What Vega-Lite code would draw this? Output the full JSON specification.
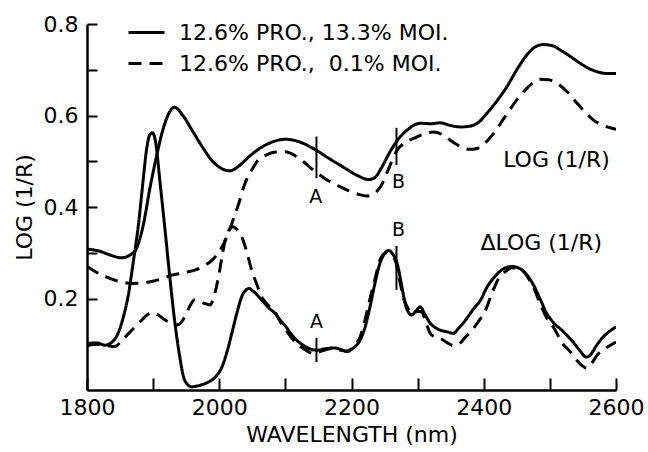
{
  "$schema": "https://vega.github.io/schema/vega-lite/v6.json",
  "width": 529,
  "height": 366,
  "autosize": {"type": "none"},
  "padding": {"left": 87, "top": 24, "right": 32, "bottom": 62},
  "background": "white",
  "config": {
    "view": {"stroke": null},
    "font": "DejaVu Sans",
    "axis": {
      "grid": false,
      "domainColor": "black",
      "domainWidth": 2.5,
      "tickColor": "black",
      "tickWidth": 2,
      "labelColor": "black",
      "titleColor": "black",
      "labelFont": "DejaVu Sans",
      "titleFont": "DejaVu Sans",
      "labelFontSize": 22,
      "titleFontSize": 22,
      "titleFontWeight": "normal"
    }
  },
  "datasets": {
    "curves": [
      {"w":1800,"v":0.308,"s":"LOG","m":"12.6% PRO., 13.3% MOI."},
      {"w":1820,"v":0.303,"s":"LOG","m":"12.6% PRO., 13.3% MOI."},
      {"w":1835,"v":0.295,"s":"LOG","m":"12.6% PRO., 13.3% MOI."},
      {"w":1852,"v":0.289,"s":"LOG","m":"12.6% PRO., 13.3% MOI."},
      {"w":1865,"v":0.295,"s":"LOG","m":"12.6% PRO., 13.3% MOI."},
      {"w":1875,"v":0.31,"s":"LOG","m":"12.6% PRO., 13.3% MOI."},
      {"w":1885,"v":0.36,"s":"LOG","m":"12.6% PRO., 13.3% MOI."},
      {"w":1895,"v":0.44,"s":"LOG","m":"12.6% PRO., 13.3% MOI."},
      {"w":1905,"v":0.51,"s":"LOG","m":"12.6% PRO., 13.3% MOI."},
      {"w":1915,"v":0.57,"s":"LOG","m":"12.6% PRO., 13.3% MOI."},
      {"w":1925,"v":0.608,"s":"LOG","m":"12.6% PRO., 13.3% MOI."},
      {"w":1932,"v":0.618,"s":"LOG","m":"12.6% PRO., 13.3% MOI."},
      {"w":1945,"v":0.6,"s":"LOG","m":"12.6% PRO., 13.3% MOI."},
      {"w":1960,"v":0.565,"s":"LOG","m":"12.6% PRO., 13.3% MOI."},
      {"w":1975,"v":0.53,"s":"LOG","m":"12.6% PRO., 13.3% MOI."},
      {"w":1990,"v":0.5,"s":"LOG","m":"12.6% PRO., 13.3% MOI."},
      {"w":2005,"v":0.483,"s":"LOG","m":"12.6% PRO., 13.3% MOI."},
      {"w":2016,"v":0.479,"s":"LOG","m":"12.6% PRO., 13.3% MOI."},
      {"w":2030,"v":0.49,"s":"LOG","m":"12.6% PRO., 13.3% MOI."},
      {"w":2045,"v":0.51,"s":"LOG","m":"12.6% PRO., 13.3% MOI."},
      {"w":2060,"v":0.527,"s":"LOG","m":"12.6% PRO., 13.3% MOI."},
      {"w":2080,"v":0.542,"s":"LOG","m":"12.6% PRO., 13.3% MOI."},
      {"w":2100,"v":0.548,"s":"LOG","m":"12.6% PRO., 13.3% MOI."},
      {"w":2120,"v":0.543,"s":"LOG","m":"12.6% PRO., 13.3% MOI."},
      {"w":2142,"v":0.528,"s":"LOG","m":"12.6% PRO., 13.3% MOI."},
      {"w":2165,"v":0.507,"s":"LOG","m":"12.6% PRO., 13.3% MOI."},
      {"w":2190,"v":0.485,"s":"LOG","m":"12.6% PRO., 13.3% MOI."},
      {"w":2210,"v":0.468,"s":"LOG","m":"12.6% PRO., 13.3% MOI."},
      {"w":2226,"v":0.46,"s":"LOG","m":"12.6% PRO., 13.3% MOI."},
      {"w":2236,"v":0.465,"s":"LOG","m":"12.6% PRO., 13.3% MOI."},
      {"w":2245,"v":0.485,"s":"LOG","m":"12.6% PRO., 13.3% MOI."},
      {"w":2258,"v":0.52,"s":"LOG","m":"12.6% PRO., 13.3% MOI."},
      {"w":2268,"v":0.543,"s":"LOG","m":"12.6% PRO., 13.3% MOI."},
      {"w":2284,"v":0.568,"s":"LOG","m":"12.6% PRO., 13.3% MOI."},
      {"w":2304,"v":0.583,"s":"LOG","m":"12.6% PRO., 13.3% MOI."},
      {"w":2320,"v":0.582,"s":"LOG","m":"12.6% PRO., 13.3% MOI."},
      {"w":2334,"v":0.584,"s":"LOG","m":"12.6% PRO., 13.3% MOI."},
      {"w":2350,"v":0.578,"s":"LOG","m":"12.6% PRO., 13.3% MOI."},
      {"w":2365,"v":0.575,"s":"LOG","m":"12.6% PRO., 13.3% MOI."},
      {"w":2380,"v":0.577,"s":"LOG","m":"12.6% PRO., 13.3% MOI."},
      {"w":2392,"v":0.585,"s":"LOG","m":"12.6% PRO., 13.3% MOI."},
      {"w":2405,"v":0.605,"s":"LOG","m":"12.6% PRO., 13.3% MOI."},
      {"w":2420,"v":0.632,"s":"LOG","m":"12.6% PRO., 13.3% MOI."},
      {"w":2435,"v":0.663,"s":"LOG","m":"12.6% PRO., 13.3% MOI."},
      {"w":2450,"v":0.7,"s":"LOG","m":"12.6% PRO., 13.3% MOI."},
      {"w":2465,"v":0.732,"s":"LOG","m":"12.6% PRO., 13.3% MOI."},
      {"w":2478,"v":0.75,"s":"LOG","m":"12.6% PRO., 13.3% MOI."},
      {"w":2490,"v":0.755,"s":"LOG","m":"12.6% PRO., 13.3% MOI."},
      {"w":2505,"v":0.752,"s":"LOG","m":"12.6% PRO., 13.3% MOI."},
      {"w":2516,"v":0.743,"s":"LOG","m":"12.6% PRO., 13.3% MOI."},
      {"w":2530,"v":0.73,"s":"LOG","m":"12.6% PRO., 13.3% MOI."},
      {"w":2546,"v":0.714,"s":"LOG","m":"12.6% PRO., 13.3% MOI."},
      {"w":2560,"v":0.702,"s":"LOG","m":"12.6% PRO., 13.3% MOI."},
      {"w":2571,"v":0.696,"s":"LOG","m":"12.6% PRO., 13.3% MOI."},
      {"w":2585,"v":0.692,"s":"LOG","m":"12.6% PRO., 13.3% MOI."},
      {"w":2600,"v":0.692,"s":"LOG","m":"12.6% PRO., 13.3% MOI."},

      {"w":1800,"v":0.27,"s":"LOG","m":"12.6% PRO.,\u00a0 0.1% MOI."},
      {"w":1827,"v":0.248,"s":"LOG","m":"12.6% PRO.,\u00a0 0.1% MOI."},
      {"w":1850,"v":0.237,"s":"LOG","m":"12.6% PRO.,\u00a0 0.1% MOI."},
      {"w":1868,"v":0.233,"s":"LOG","m":"12.6% PRO.,\u00a0 0.1% MOI."},
      {"w":1885,"v":0.234,"s":"LOG","m":"12.6% PRO.,\u00a0 0.1% MOI."},
      {"w":1898,"v":0.237,"s":"LOG","m":"12.6% PRO.,\u00a0 0.1% MOI."},
      {"w":1915,"v":0.244,"s":"LOG","m":"12.6% PRO.,\u00a0 0.1% MOI."},
      {"w":1928,"v":0.251,"s":"LOG","m":"12.6% PRO.,\u00a0 0.1% MOI."},
      {"w":1945,"v":0.256,"s":"LOG","m":"12.6% PRO.,\u00a0 0.1% MOI."},
      {"w":1963,"v":0.262,"s":"LOG","m":"12.6% PRO.,\u00a0 0.1% MOI."},
      {"w":1978,"v":0.272,"s":"LOG","m":"12.6% PRO.,\u00a0 0.1% MOI."},
      {"w":1990,"v":0.285,"s":"LOG","m":"12.6% PRO.,\u00a0 0.1% MOI."},
      {"w":2000,"v":0.303,"s":"LOG","m":"12.6% PRO.,\u00a0 0.1% MOI."},
      {"w":2010,"v":0.33,"s":"LOG","m":"12.6% PRO.,\u00a0 0.1% MOI."},
      {"w":2019,"v":0.364,"s":"LOG","m":"12.6% PRO.,\u00a0 0.1% MOI."},
      {"w":2030,"v":0.41,"s":"LOG","m":"12.6% PRO.,\u00a0 0.1% MOI."},
      {"w":2039,"v":0.452,"s":"LOG","m":"12.6% PRO.,\u00a0 0.1% MOI."},
      {"w":2050,"v":0.483,"s":"LOG","m":"12.6% PRO.,\u00a0 0.1% MOI."},
      {"w":2059,"v":0.503,"s":"LOG","m":"12.6% PRO.,\u00a0 0.1% MOI."},
      {"w":2070,"v":0.513,"s":"LOG","m":"12.6% PRO.,\u00a0 0.1% MOI."},
      {"w":2085,"v":0.52,"s":"LOG","m":"12.6% PRO.,\u00a0 0.1% MOI."},
      {"w":2100,"v":0.521,"s":"LOG","m":"12.6% PRO.,\u00a0 0.1% MOI."},
      {"w":2115,"v":0.512,"s":"LOG","m":"12.6% PRO.,\u00a0 0.1% MOI."},
      {"w":2130,"v":0.496,"s":"LOG","m":"12.6% PRO.,\u00a0 0.1% MOI."},
      {"w":2142,"v":0.481,"s":"LOG","m":"12.6% PRO.,\u00a0 0.1% MOI."},
      {"w":2160,"v":0.462,"s":"LOG","m":"12.6% PRO.,\u00a0 0.1% MOI."},
      {"w":2180,"v":0.446,"s":"LOG","m":"12.6% PRO.,\u00a0 0.1% MOI."},
      {"w":2195,"v":0.436,"s":"LOG","m":"12.6% PRO.,\u00a0 0.1% MOI."},
      {"w":2210,"v":0.428,"s":"LOG","m":"12.6% PRO.,\u00a0 0.1% MOI."},
      {"w":2223,"v":0.424,"s":"LOG","m":"12.6% PRO.,\u00a0 0.1% MOI."},
      {"w":2235,"v":0.43,"s":"LOG","m":"12.6% PRO.,\u00a0 0.1% MOI."},
      {"w":2245,"v":0.447,"s":"LOG","m":"12.6% PRO.,\u00a0 0.1% MOI."},
      {"w":2258,"v":0.49,"s":"LOG","m":"12.6% PRO.,\u00a0 0.1% MOI."},
      {"w":2268,"v":0.522,"s":"LOG","m":"12.6% PRO.,\u00a0 0.1% MOI."},
      {"w":2280,"v":0.54,"s":"LOG","m":"12.6% PRO.,\u00a0 0.1% MOI."},
      {"w":2294,"v":0.55,"s":"LOG","m":"12.6% PRO.,\u00a0 0.1% MOI."},
      {"w":2310,"v":0.56,"s":"LOG","m":"12.6% PRO.,\u00a0 0.1% MOI."},
      {"w":2324,"v":0.564,"s":"LOG","m":"12.6% PRO.,\u00a0 0.1% MOI."},
      {"w":2340,"v":0.556,"s":"LOG","m":"12.6% PRO.,\u00a0 0.1% MOI."},
      {"w":2352,"v":0.543,"s":"LOG","m":"12.6% PRO.,\u00a0 0.1% MOI."},
      {"w":2365,"v":0.532,"s":"LOG","m":"12.6% PRO.,\u00a0 0.1% MOI."},
      {"w":2378,"v":0.526,"s":"LOG","m":"12.6% PRO.,\u00a0 0.1% MOI."},
      {"w":2390,"v":0.528,"s":"LOG","m":"12.6% PRO.,\u00a0 0.1% MOI."},
      {"w":2402,"v":0.54,"s":"LOG","m":"12.6% PRO.,\u00a0 0.1% MOI."},
      {"w":2415,"v":0.561,"s":"LOG","m":"12.6% PRO.,\u00a0 0.1% MOI."},
      {"w":2432,"v":0.597,"s":"LOG","m":"12.6% PRO.,\u00a0 0.1% MOI."},
      {"w":2450,"v":0.634,"s":"LOG","m":"12.6% PRO.,\u00a0 0.1% MOI."},
      {"w":2467,"v":0.662,"s":"LOG","m":"12.6% PRO.,\u00a0 0.1% MOI."},
      {"w":2485,"v":0.679,"s":"LOG","m":"12.6% PRO.,\u00a0 0.1% MOI."},
      {"w":2498,"v":0.678,"s":"LOG","m":"12.6% PRO.,\u00a0 0.1% MOI."},
      {"w":2511,"v":0.67,"s":"LOG","m":"12.6% PRO.,\u00a0 0.1% MOI."},
      {"w":2526,"v":0.652,"s":"LOG","m":"12.6% PRO.,\u00a0 0.1% MOI."},
      {"w":2541,"v":0.627,"s":"LOG","m":"12.6% PRO.,\u00a0 0.1% MOI."},
      {"w":2555,"v":0.605,"s":"LOG","m":"12.6% PRO.,\u00a0 0.1% MOI."},
      {"w":2566,"v":0.59,"s":"LOG","m":"12.6% PRO.,\u00a0 0.1% MOI."},
      {"w":2580,"v":0.579,"s":"LOG","m":"12.6% PRO.,\u00a0 0.1% MOI."},
      {"w":2594,"v":0.572,"s":"LOG","m":"12.6% PRO.,\u00a0 0.1% MOI."},
      {"w":2600,"v":0.57,"s":"LOG","m":"12.6% PRO.,\u00a0 0.1% MOI."},

      {"w":1800,"v":0.102,"s":"DLOG","m":"12.6% PRO., 13.3% MOI."},
      {"w":1815,"v":0.103,"s":"DLOG","m":"12.6% PRO., 13.3% MOI."},
      {"w":1827,"v":0.098,"s":"DLOG","m":"12.6% PRO., 13.3% MOI."},
      {"w":1838,"v":0.105,"s":"DLOG","m":"12.6% PRO., 13.3% MOI."},
      {"w":1847,"v":0.124,"s":"DLOG","m":"12.6% PRO., 13.3% MOI."},
      {"w":1855,"v":0.16,"s":"DLOG","m":"12.6% PRO., 13.3% MOI."},
      {"w":1862,"v":0.204,"s":"DLOG","m":"12.6% PRO., 13.3% MOI."},
      {"w":1870,"v":0.28,"s":"DLOG","m":"12.6% PRO., 13.3% MOI."},
      {"w":1878,"v":0.364,"s":"DLOG","m":"12.6% PRO., 13.3% MOI."},
      {"w":1885,"v":0.46,"s":"DLOG","m":"12.6% PRO., 13.3% MOI."},
      {"w":1890,"v":0.525,"s":"DLOG","m":"12.6% PRO., 13.3% MOI."},
      {"w":1895,"v":0.558,"s":"DLOG","m":"12.6% PRO., 13.3% MOI."},
      {"w":1899,"v":0.562,"s":"DLOG","m":"12.6% PRO., 13.3% MOI."},
      {"w":1904,"v":0.54,"s":"DLOG","m":"12.6% PRO., 13.3% MOI."},
      {"w":1910,"v":0.46,"s":"DLOG","m":"12.6% PRO., 13.3% MOI."},
      {"w":1918,"v":0.35,"s":"DLOG","m":"12.6% PRO., 13.3% MOI."},
      {"w":1925,"v":0.25,"s":"DLOG","m":"12.6% PRO., 13.3% MOI."},
      {"w":1933,"v":0.146,"s":"DLOG","m":"12.6% PRO., 13.3% MOI."},
      {"w":1940,"v":0.075,"s":"DLOG","m":"12.6% PRO., 13.3% MOI."},
      {"w":1946,"v":0.029,"s":"DLOG","m":"12.6% PRO., 13.3% MOI."},
      {"w":1952,"v":0.012,"s":"DLOG","m":"12.6% PRO., 13.3% MOI."},
      {"w":1958,"v":0.007,"s":"DLOG","m":"12.6% PRO., 13.3% MOI."},
      {"w":1970,"v":0.01,"s":"DLOG","m":"12.6% PRO., 13.3% MOI."},
      {"w":1980,"v":0.015,"s":"DLOG","m":"12.6% PRO., 13.3% MOI."},
      {"w":1989,"v":0.022,"s":"DLOG","m":"12.6% PRO., 13.3% MOI."},
      {"w":1997,"v":0.033,"s":"DLOG","m":"12.6% PRO., 13.3% MOI."},
      {"w":2004,"v":0.05,"s":"DLOG","m":"12.6% PRO., 13.3% MOI."},
      {"w":2012,"v":0.085,"s":"DLOG","m":"12.6% PRO., 13.3% MOI."},
      {"w":2019,"v":0.124,"s":"DLOG","m":"12.6% PRO., 13.3% MOI."},
      {"w":2027,"v":0.17,"s":"DLOG","m":"12.6% PRO., 13.3% MOI."},
      {"w":2034,"v":0.204,"s":"DLOG","m":"12.6% PRO., 13.3% MOI."},
      {"w":2040,"v":0.218,"s":"DLOG","m":"12.6% PRO., 13.3% MOI."},
      {"w":2045,"v":0.222,"s":"DLOG","m":"12.6% PRO., 13.3% MOI."},
      {"w":2052,"v":0.215,"s":"DLOG","m":"12.6% PRO., 13.3% MOI."},
      {"w":2064,"v":0.197,"s":"DLOG","m":"12.6% PRO., 13.3% MOI."},
      {"w":2076,"v":0.178,"s":"DLOG","m":"12.6% PRO., 13.3% MOI."},
      {"w":2084,"v":0.168,"s":"DLOG","m":"12.6% PRO., 13.3% MOI."},
      {"w":2092,"v":0.153,"s":"DLOG","m":"12.6% PRO., 13.3% MOI."},
      {"w":2100,"v":0.14,"s":"DLOG","m":"12.6% PRO., 13.3% MOI."},
      {"w":2110,"v":0.12,"s":"DLOG","m":"12.6% PRO., 13.3% MOI."},
      {"w":2117,"v":0.109,"s":"DLOG","m":"12.6% PRO., 13.3% MOI."},
      {"w":2130,"v":0.095,"s":"DLOG","m":"12.6% PRO., 13.3% MOI."},
      {"w":2147,"v":0.087,"s":"DLOG","m":"12.6% PRO., 13.3% MOI."},
      {"w":2160,"v":0.09,"s":"DLOG","m":"12.6% PRO., 13.3% MOI."},
      {"w":2173,"v":0.092,"s":"DLOG","m":"12.6% PRO., 13.3% MOI."},
      {"w":2185,"v":0.088,"s":"DLOG","m":"12.6% PRO., 13.3% MOI."},
      {"w":2193,"v":0.084,"s":"DLOG","m":"12.6% PRO., 13.3% MOI."},
      {"w":2203,"v":0.092,"s":"DLOG","m":"12.6% PRO., 13.3% MOI."},
      {"w":2213,"v":0.109,"s":"DLOG","m":"12.6% PRO., 13.3% MOI."},
      {"w":2220,"v":0.135,"s":"DLOG","m":"12.6% PRO., 13.3% MOI."},
      {"w":2228,"v":0.182,"s":"DLOG","m":"12.6% PRO., 13.3% MOI."},
      {"w":2235,"v":0.23,"s":"DLOG","m":"12.6% PRO., 13.3% MOI."},
      {"w":2243,"v":0.277,"s":"DLOG","m":"12.6% PRO., 13.3% MOI."},
      {"w":2250,"v":0.298,"s":"DLOG","m":"12.6% PRO., 13.3% MOI."},
      {"w":2256,"v":0.305,"s":"DLOG","m":"12.6% PRO., 13.3% MOI."},
      {"w":2262,"v":0.298,"s":"DLOG","m":"12.6% PRO., 13.3% MOI."},
      {"w":2269,"v":0.277,"s":"DLOG","m":"12.6% PRO., 13.3% MOI."},
      {"w":2275,"v":0.235,"s":"DLOG","m":"12.6% PRO., 13.3% MOI."},
      {"w":2281,"v":0.19,"s":"DLOG","m":"12.6% PRO., 13.3% MOI."},
      {"w":2287,"v":0.168,"s":"DLOG","m":"12.6% PRO., 13.3% MOI."},
      {"w":2291,"v":0.164,"s":"DLOG","m":"12.6% PRO., 13.3% MOI."},
      {"w":2297,"v":0.172,"s":"DLOG","m":"12.6% PRO., 13.3% MOI."},
      {"w":2304,"v":0.182,"s":"DLOG","m":"12.6% PRO., 13.3% MOI."},
      {"w":2311,"v":0.165,"s":"DLOG","m":"12.6% PRO., 13.3% MOI."},
      {"w":2319,"v":0.146,"s":"DLOG","m":"12.6% PRO., 13.3% MOI."},
      {"w":2326,"v":0.137,"s":"DLOG","m":"12.6% PRO., 13.3% MOI."},
      {"w":2334,"v":0.131,"s":"DLOG","m":"12.6% PRO., 13.3% MOI."},
      {"w":2345,"v":0.127,"s":"DLOG","m":"12.6% PRO., 13.3% MOI."},
      {"w":2354,"v":0.124,"s":"DLOG","m":"12.6% PRO., 13.3% MOI."},
      {"w":2362,"v":0.135,"s":"DLOG","m":"12.6% PRO., 13.3% MOI."},
      {"w":2372,"v":0.152,"s":"DLOG","m":"12.6% PRO., 13.3% MOI."},
      {"w":2385,"v":0.178,"s":"DLOG","m":"12.6% PRO., 13.3% MOI."},
      {"w":2395,"v":0.196,"s":"DLOG","m":"12.6% PRO., 13.3% MOI."},
      {"w":2405,"v":0.225,"s":"DLOG","m":"12.6% PRO., 13.3% MOI."},
      {"w":2418,"v":0.25,"s":"DLOG","m":"12.6% PRO., 13.3% MOI."},
      {"w":2430,"v":0.265,"s":"DLOG","m":"12.6% PRO., 13.3% MOI."},
      {"w":2442,"v":0.27,"s":"DLOG","m":"12.6% PRO., 13.3% MOI."},
      {"w":2455,"v":0.265,"s":"DLOG","m":"12.6% PRO., 13.3% MOI."},
      {"w":2465,"v":0.252,"s":"DLOG","m":"12.6% PRO., 13.3% MOI."},
      {"w":2475,"v":0.23,"s":"DLOG","m":"12.6% PRO., 13.3% MOI."},
      {"w":2485,"v":0.2,"s":"DLOG","m":"12.6% PRO., 13.3% MOI."},
      {"w":2495,"v":0.168,"s":"DLOG","m":"12.6% PRO., 13.3% MOI."},
      {"w":2505,"v":0.148,"s":"DLOG","m":"12.6% PRO., 13.3% MOI."},
      {"w":2520,"v":0.128,"s":"DLOG","m":"12.6% PRO., 13.3% MOI."},
      {"w":2535,"v":0.105,"s":"DLOG","m":"12.6% PRO., 13.3% MOI."},
      {"w":2545,"v":0.087,"s":"DLOG","m":"12.6% PRO., 13.3% MOI."},
      {"w":2555,"v":0.072,"s":"DLOG","m":"12.6% PRO., 13.3% MOI."},
      {"w":2562,"v":0.078,"s":"DLOG","m":"12.6% PRO., 13.3% MOI."},
      {"w":2570,"v":0.096,"s":"DLOG","m":"12.6% PRO., 13.3% MOI."},
      {"w":2580,"v":0.115,"s":"DLOG","m":"12.6% PRO., 13.3% MOI."},
      {"w":2590,"v":0.128,"s":"DLOG","m":"12.6% PRO., 13.3% MOI."},
      {"w":2600,"v":0.138,"s":"DLOG","m":"12.6% PRO., 13.3% MOI."},

      {"w":1800,"v":0.097,"s":"DLOG","m":"12.6% PRO.,\u00a0 0.1% MOI."},
      {"w":1815,"v":0.1,"s":"DLOG","m":"12.6% PRO.,\u00a0 0.1% MOI."},
      {"w":1830,"v":0.097,"s":"DLOG","m":"12.6% PRO.,\u00a0 0.1% MOI."},
      {"w":1842,"v":0.095,"s":"DLOG","m":"12.6% PRO.,\u00a0 0.1% MOI."},
      {"w":1855,"v":0.112,"s":"DLOG","m":"12.6% PRO.,\u00a0 0.1% MOI."},
      {"w":1868,"v":0.131,"s":"DLOG","m":"12.6% PRO.,\u00a0 0.1% MOI."},
      {"w":1883,"v":0.153,"s":"DLOG","m":"12.6% PRO.,\u00a0 0.1% MOI."},
      {"w":1893,"v":0.166,"s":"DLOG","m":"12.6% PRO.,\u00a0 0.1% MOI."},
      {"w":1900,"v":0.169,"s":"DLOG","m":"12.6% PRO.,\u00a0 0.1% MOI."},
      {"w":1908,"v":0.164,"s":"DLOG","m":"12.6% PRO.,\u00a0 0.1% MOI."},
      {"w":1918,"v":0.153,"s":"DLOG","m":"12.6% PRO.,\u00a0 0.1% MOI."},
      {"w":1927,"v":0.147,"s":"DLOG","m":"12.6% PRO.,\u00a0 0.1% MOI."},
      {"w":1936,"v":0.142,"s":"DLOG","m":"12.6% PRO.,\u00a0 0.1% MOI."},
      {"w":1942,"v":0.147,"s":"DLOG","m":"12.6% PRO.,\u00a0 0.1% MOI."},
      {"w":1948,"v":0.16,"s":"DLOG","m":"12.6% PRO.,\u00a0 0.1% MOI."},
      {"w":1955,"v":0.182,"s":"DLOG","m":"12.6% PRO.,\u00a0 0.1% MOI."},
      {"w":1963,"v":0.197,"s":"DLOG","m":"12.6% PRO.,\u00a0 0.1% MOI."},
      {"w":1970,"v":0.193,"s":"DLOG","m":"12.6% PRO.,\u00a0 0.1% MOI."},
      {"w":1976,"v":0.19,"s":"DLOG","m":"12.6% PRO.,\u00a0 0.1% MOI."},
      {"w":1986,"v":0.186,"s":"DLOG","m":"12.6% PRO.,\u00a0 0.1% MOI."},
      {"w":1993,"v":0.21,"s":"DLOG","m":"12.6% PRO.,\u00a0 0.1% MOI."},
      {"w":1999,"v":0.248,"s":"DLOG","m":"12.6% PRO.,\u00a0 0.1% MOI."},
      {"w":2004,"v":0.29,"s":"DLOG","m":"12.6% PRO.,\u00a0 0.1% MOI."},
      {"w":2009,"v":0.328,"s":"DLOG","m":"12.6% PRO.,\u00a0 0.1% MOI."},
      {"w":2015,"v":0.35,"s":"DLOG","m":"12.6% PRO.,\u00a0 0.1% MOI."},
      {"w":2021,"v":0.357,"s":"DLOG","m":"12.6% PRO.,\u00a0 0.1% MOI."},
      {"w":2027,"v":0.35,"s":"DLOG","m":"12.6% PRO.,\u00a0 0.1% MOI."},
      {"w":2034,"v":0.335,"s":"DLOG","m":"12.6% PRO.,\u00a0 0.1% MOI."},
      {"w":2042,"v":0.3,"s":"DLOG","m":"12.6% PRO.,\u00a0 0.1% MOI."},
      {"w":2049,"v":0.262,"s":"DLOG","m":"12.6% PRO.,\u00a0 0.1% MOI."},
      {"w":2057,"v":0.23,"s":"DLOG","m":"12.6% PRO.,\u00a0 0.1% MOI."},
      {"w":2064,"v":0.204,"s":"DLOG","m":"12.6% PRO.,\u00a0 0.1% MOI."},
      {"w":2074,"v":0.185,"s":"DLOG","m":"12.6% PRO.,\u00a0 0.1% MOI."},
      {"w":2084,"v":0.171,"s":"DLOG","m":"12.6% PRO.,\u00a0 0.1% MOI."},
      {"w":2092,"v":0.15,"s":"DLOG","m":"12.6% PRO.,\u00a0 0.1% MOI."},
      {"w":2100,"v":0.133,"s":"DLOG","m":"12.6% PRO.,\u00a0 0.1% MOI."},
      {"w":2110,"v":0.113,"s":"DLOG","m":"12.6% PRO.,\u00a0 0.1% MOI."},
      {"w":2117,"v":0.102,"s":"DLOG","m":"12.6% PRO.,\u00a0 0.1% MOI."},
      {"w":2130,"v":0.088,"s":"DLOG","m":"12.6% PRO.,\u00a0 0.1% MOI."},
      {"w":2142,"v":0.08,"s":"DLOG","m":"12.6% PRO.,\u00a0 0.1% MOI."},
      {"w":2155,"v":0.085,"s":"DLOG","m":"12.6% PRO.,\u00a0 0.1% MOI."},
      {"w":2168,"v":0.09,"s":"DLOG","m":"12.6% PRO.,\u00a0 0.1% MOI."},
      {"w":2180,"v":0.088,"s":"DLOG","m":"12.6% PRO.,\u00a0 0.1% MOI."},
      {"w":2193,"v":0.085,"s":"DLOG","m":"12.6% PRO.,\u00a0 0.1% MOI."},
      {"w":2203,"v":0.095,"s":"DLOG","m":"12.6% PRO.,\u00a0 0.1% MOI."},
      {"w":2213,"v":0.116,"s":"DLOG","m":"12.6% PRO.,\u00a0 0.1% MOI."},
      {"w":2220,"v":0.15,"s":"DLOG","m":"12.6% PRO.,\u00a0 0.1% MOI."},
      {"w":2228,"v":0.2,"s":"DLOG","m":"12.6% PRO.,\u00a0 0.1% MOI."},
      {"w":2236,"v":0.245,"s":"DLOG","m":"12.6% PRO.,\u00a0 0.1% MOI."},
      {"w":2243,"v":0.284,"s":"DLOG","m":"12.6% PRO.,\u00a0 0.1% MOI."},
      {"w":2248,"v":0.296,"s":"DLOG","m":"12.6% PRO.,\u00a0 0.1% MOI."},
      {"w":2253,"v":0.3,"s":"DLOG","m":"12.6% PRO.,\u00a0 0.1% MOI."},
      {"w":2259,"v":0.296,"s":"DLOG","m":"12.6% PRO.,\u00a0 0.1% MOI."},
      {"w":2266,"v":0.284,"s":"DLOG","m":"12.6% PRO.,\u00a0 0.1% MOI."},
      {"w":2272,"v":0.245,"s":"DLOG","m":"12.6% PRO.,\u00a0 0.1% MOI."},
      {"w":2279,"v":0.2,"s":"DLOG","m":"12.6% PRO.,\u00a0 0.1% MOI."},
      {"w":2286,"v":0.177,"s":"DLOG","m":"12.6% PRO.,\u00a0 0.1% MOI."},
      {"w":2294,"v":0.168,"s":"DLOG","m":"12.6% PRO.,\u00a0 0.1% MOI."},
      {"w":2300,"v":0.172,"s":"DLOG","m":"12.6% PRO.,\u00a0 0.1% MOI."},
      {"w":2306,"v":0.171,"s":"DLOG","m":"12.6% PRO.,\u00a0 0.1% MOI."},
      {"w":2312,"v":0.15,"s":"DLOG","m":"12.6% PRO.,\u00a0 0.1% MOI."},
      {"w":2319,"v":0.124,"s":"DLOG","m":"12.6% PRO.,\u00a0 0.1% MOI."},
      {"w":2326,"v":0.116,"s":"DLOG","m":"12.6% PRO.,\u00a0 0.1% MOI."},
      {"w":2334,"v":0.113,"s":"DLOG","m":"12.6% PRO.,\u00a0 0.1% MOI."},
      {"w":2344,"v":0.104,"s":"DLOG","m":"12.6% PRO.,\u00a0 0.1% MOI."},
      {"w":2354,"v":0.097,"s":"DLOG","m":"12.6% PRO.,\u00a0 0.1% MOI."},
      {"w":2362,"v":0.1,"s":"DLOG","m":"12.6% PRO.,\u00a0 0.1% MOI."},
      {"w":2372,"v":0.115,"s":"DLOG","m":"12.6% PRO.,\u00a0 0.1% MOI."},
      {"w":2382,"v":0.13,"s":"DLOG","m":"12.6% PRO.,\u00a0 0.1% MOI."},
      {"w":2392,"v":0.15,"s":"DLOG","m":"12.6% PRO.,\u00a0 0.1% MOI."},
      {"w":2402,"v":0.172,"s":"DLOG","m":"12.6% PRO.,\u00a0 0.1% MOI."},
      {"w":2412,"v":0.21,"s":"DLOG","m":"12.6% PRO.,\u00a0 0.1% MOI."},
      {"w":2422,"v":0.242,"s":"DLOG","m":"12.6% PRO.,\u00a0 0.1% MOI."},
      {"w":2432,"v":0.258,"s":"DLOG","m":"12.6% PRO.,\u00a0 0.1% MOI."},
      {"w":2442,"v":0.267,"s":"DLOG","m":"12.6% PRO.,\u00a0 0.1% MOI."},
      {"w":2455,"v":0.265,"s":"DLOG","m":"12.6% PRO.,\u00a0 0.1% MOI."},
      {"w":2465,"v":0.25,"s":"DLOG","m":"12.6% PRO.,\u00a0 0.1% MOI."},
      {"w":2475,"v":0.225,"s":"DLOG","m":"12.6% PRO.,\u00a0 0.1% MOI."},
      {"w":2485,"v":0.19,"s":"DLOG","m":"12.6% PRO.,\u00a0 0.1% MOI."},
      {"w":2495,"v":0.158,"s":"DLOG","m":"12.6% PRO.,\u00a0 0.1% MOI."},
      {"w":2505,"v":0.138,"s":"DLOG","m":"12.6% PRO.,\u00a0 0.1% MOI."},
      {"w":2520,"v":0.1,"s":"DLOG","m":"12.6% PRO.,\u00a0 0.1% MOI."},
      {"w":2530,"v":0.085,"s":"DLOG","m":"12.6% PRO.,\u00a0 0.1% MOI."},
      {"w":2540,"v":0.066,"s":"DLOG","m":"12.6% PRO.,\u00a0 0.1% MOI."},
      {"w":2550,"v":0.052,"s":"DLOG","m":"12.6% PRO.,\u00a0 0.1% MOI."},
      {"w":2556,"v":0.048,"s":"DLOG","m":"12.6% PRO.,\u00a0 0.1% MOI."},
      {"w":2563,"v":0.058,"s":"DLOG","m":"12.6% PRO.,\u00a0 0.1% MOI."},
      {"w":2572,"v":0.077,"s":"DLOG","m":"12.6% PRO.,\u00a0 0.1% MOI."},
      {"w":2585,"v":0.092,"s":"DLOG","m":"12.6% PRO.,\u00a0 0.1% MOI."},
      {"w":2600,"v":0.105,"s":"DLOG","m":"12.6% PRO.,\u00a0 0.1% MOI."}
    ],
    "markers": [
      {"w":2147,"v":0.463,"v2":0.554},
      {"w":2268,"v":0.492,"v2":0.573},
      {"w":2147,"v":0.061,"v2":0.114},
      {"w":2268,"v":0.219,"v2":0.315}
    ],
    "letters": [
      {"w":2146,"v":0.4225,"t":"A"},
      {"w":2271,"v":0.455,"t":"B"},
      {"w":2271,"v":0.35,"t":"B"},
      {"w":2147,"v":0.149,"t":"A"}
    ],
    "labels": [
      {"w":2510,"v":0.503,"t":"LOG (1/R)"},
      {"w":2487,"v":0.321,"t":"ΔLOG (1/R)"}
    ]
  },
  "layer": [
    {
      "data": {"name": "curves"},
      "mark": {"type": "line", "interpolate": "monotone", "strokeWidth": 3, "color": "black", "clip": true},
      "encoding": {
        "x": {
          "field": "w", "type": "quantitative",
          "scale": {"domain": [1800, 2600], "nice": false, "zero": false},
          "axis": {
            "title": "WAVELENGTH (nm)",
            "values": [1800, 1900, 2000, 2100, 2200, 2300, 2400, 2500, 2600],
            "format": "d",
            "labelExpr": "datum.value % 200 == 0 ? datum.label : ''",
            "tickSize": -12,
            "labelPadding": 19,
            "titlePadding": 6,
            "labelFlush": false,
            "labelOverlap": false
          }
        },
        "y": {
          "field": "v", "type": "quantitative",
          "scale": {"domain": [0, 0.8], "nice": false, "zero": true},
          "axis": {
            "title": "LOG (1/R)",
            "values": [0.1, 0.2, 0.3, 0.4, 0.5, 0.6, 0.7, 0.8],
            "labelExpr": "round(datum.value * 10) % 2 == 0 ? format(datum.value, '.1f') : ''",
            "tickSize": -10,
            "labelPadding": 19,
            "titlePadding": 7,
            "labelFlush": false,
            "labelOverlap": false
          }
        },
        "strokeDash": {
          "field": "m", "type": "nominal",
          "scale": {
            "domain": ["12.6% PRO., 13.3% MOI.", "12.6% PRO.,\u00a0 0.1% MOI."],
            "range": [[1, 0], [13, 8]]
          },
          "legend": {
            "title": null,
            "orient": "none",
            "legendX": 40,
            "legendY": -11,
            "labelFontSize": 22,
            "labelFont": "DejaVu Sans",
            "labelColor": "black",
            "labelLimit": 0,
            "symbolSize": 1296,
            "symbolStrokeWidth": 3,
            "symbolStrokeColor": "black",
            "symbolType": "stroke",
            "labelOffset": 13,
            "rowPadding": -7,
            "padding": 0
          }
        },
        "detail": {"field": "s", "type": "nominal"}
      }
    },
    {
      "data": {"name": "markers"},
      "mark": {"type": "rule", "strokeWidth": 2, "color": "black"},
      "encoding": {
        "x": {"field": "w", "type": "quantitative"},
        "y": {"field": "v", "type": "quantitative"},
        "y2": {"field": "v2"}
      }
    },
    {
      "data": {"name": "letters"},
      "mark": {"type": "text", "fontSize": 19, "font": "DejaVu Sans", "color": "black", "align": "center", "baseline": "middle"},
      "encoding": {
        "x": {"field": "w", "type": "quantitative"},
        "y": {"field": "v", "type": "quantitative"},
        "text": {"field": "t"}
      }
    },
    {
      "data": {"name": "labels"},
      "mark": {"type": "text", "fontSize": 22, "font": "DejaVu Sans", "color": "black", "align": "center", "baseline": "middle"},
      "encoding": {
        "x": {"field": "w", "type": "quantitative"},
        "y": {"field": "v", "type": "quantitative"},
        "text": {"field": "t"}
      }
    }
  ]
}
